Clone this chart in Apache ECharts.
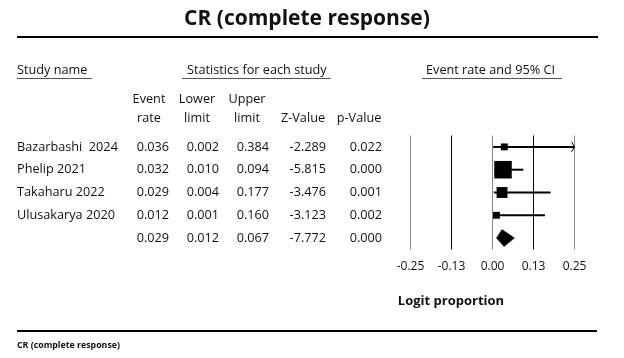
<!DOCTYPE html>
<html><head><meta charset="utf-8">
<script src="https://cdn.jsdelivr.net/npm/echarts@6/dist/echarts.min.js"></script>
<style>html,body{margin:0;padding:0;background:#fff}#c{width:624px;height:358px}</style>
</head><body><div id="c"></div>
<script>
// ---- data (last row = pooled estimate) ----
const studyNames = ['Bazarbashi  2024', 'Phelip 2021', 'Takaharu 2022', 'Ulusakarya 2020', ''];
const eventRate  = [0.036, 0.032, 0.029, 0.012, 0.029];
const lowerLimit = [0.002, 0.010, 0.004, 0.001, 0.012];
const upperLimit = [0.384, 0.094, 0.177, 0.160, 0.067];
const zValue     = [-2.289, -5.815, -3.476, -3.123, -7.772];
const pValue     = [0.022, 0.000, 0.001, 0.002, 0.000];
const relWeight  = [8, 52, 20, 8];           // relative study weights (square size)
const axisMin = -0.25, axisMax = 0.25, axisStep = 0.125;
const titleText = 'CR (complete response)';
const groupHeaders = ['Study name', 'Statistics for each study', 'Event rate and 95% CI'];
const colHeaders = [['Event', 'rate'], ['Lower', 'limit'], ['Upper', 'limit'], ['', 'Z-Value'], ['', 'p-Value']];
const axisTitle = 'Logit proportion';

// ---- layout ----
const FONT = '"Open Sans", "Noto Sans", sans-serif';
const FS = 12.7;
const GL = 410.5, GW = 164, GT = 135.5, GH = 114;
const rowKeys = studyNames.map((_, i) => 'r' + i);
const nStudies = relWeight.length;
const colRight = [169, 219, 269, 326, 382];
const colTexts = [eventRate, lowerLimit, upperLimit, zValue, pValue].map(a => a.map(v => v.toFixed(3)));

function baseY(extra) {
  return Object.assign({
    type: 'category', gridIndex: 0, data: rowKeys, inverse: true, position: 'left',
    axisLine: {show: false}, axisTick: {show: false}, splitLine: {show: false}
  }, extra);
}
const yAxes = [baseY({
  offset: GL - 17,
  axisLabel: {interval: 0, margin: 0, align: 'left', color: '#111', fontSize: FS, fontFamily: FONT,
    formatter: (v, i) => studyNames[i]}
})];
colTexts.forEach((t, c) => {
  yAxes.push(baseY({
    offset: GL - colRight[c],
    axisLabel: {interval: 0, margin: 0, align: 'right', color: '#111', fontSize: FS, fontFamily: FONT,
      formatter: (v, i) => t[i]}
  }));
});

const graphics = [];
function txt(text, x, y, align, font) {
  graphics.push({type: 'text', silent: true, style: {text, x, y, align, verticalAlign: 'middle',
    textAlign: align, textVerticalAlign: 'middle', fill: '#111', font: font || (FS + 'px ' + FONT)}});
}
function ln(x1, y1, x2, y2, w, color) {
  graphics.push({type: 'line', silent: true, shape: {x1, y1, x2, y2}, style: {stroke: color || '#000', lineWidth: w}});
}
ln(17, 37, 598, 37, 2);
ln(17, 331, 597, 331, 2);
txt(groupHeaders[0], 17, 70, 'left');
txt(groupHeaders[1], 187, 70, 'left');
txt(groupHeaders[2], 426, 70, 'left');
ln(17, 78.5, 92, 78.5, 1, '#555');
ln(182, 78.5, 331, 78.5, 1, '#555');
ln(422, 78.5, 562, 78.5, 1, '#555');
const hdrX = [149, 197, 247, 303, 359];
colHeaders.forEach((h, c) => {
  if (h[0]) txt(h[0], hdrX[c], 99, 'center');
  txt(h[1], hdrX[c], 118, 'center');
});
txt(axisTitle, 451, 301, 'center', 'bold 13px ' + FONT);
txt(titleText, 17, 345, 'left', 'bold 8.8px ' + FONT);
txt(titleText, 307, 19, 'center', 'bold 21px ' + FONT);

const chart = echarts.init(document.getElementById('c'), null, {renderer: 'canvas'});
chart.setOption({
  animation: false,
  backgroundColor: '#fff',
  grid: {left: GL, top: GT, width: GW, height: GH, containLabel: false, outerBoundsMode: 'none'},
  xAxis: {
    type: 'value', min: axisMin, max: axisMax, interval: axisStep,
    axisLine: {show: false}, axisTick: {show: false},
    axisLabel: {margin: 11, color: '#111', fontSize: 12, fontFamily: FONT, formatter: v => v.toFixed(2)},
    splitLine: {show: true, showMinLine: true, showMaxLine: true,
      lineStyle: {color: ['#8a8a8a', '#000', '#8a8a8a', '#000', '#8a8a8a'], width: 1}}
  },
  yAxis: yAxes,
  graphic: graphics,
  series: [
    {
      type: 'custom', clip: false,
      data: rowKeys.slice(0, nStudies).map((_, i) => [lowerLimit[i], upperLimit[i], i]),
      renderItem: (params, api) => {
        const lo = api.value(0), hi = api.value(1), row = api.value(2);
        const p0 = api.coord([Math.max(lo, axisMin), row]);
        const p1 = api.coord([Math.min(hi, axisMax), row]);
        const ch = [{type: 'line', shape: {x1: p0[0], y1: p0[1], x2: p1[0], y2: p1[1]},
          style: {stroke: '#000', lineWidth: 2}}];
        if (hi > axisMax) ch.push({type: 'polyline', shape: {points: [[p1[0] - 3, p1[1] - 5], [p1[0], p1[1]], [p1[0] - 3, p1[1] + 5]]},
          style: {stroke: '#000', fill: null, lineWidth: 1}});
        return {type: 'group', children: ch};
      }
    },
    {
      type: 'scatter', symbol: 'rect',
      data: relWeight.map((w, i) => [eventRate[i], i, w]),
      symbolSize: d => 2.43 * Math.sqrt(d[2]),
      itemStyle: {color: '#000', opacity: 1}
    },
    {
      type: 'custom', clip: false,
      data: [[lowerLimit[nStudies], eventRate[nStudies], upperLimit[nStudies], nStudies]],
      renderItem: (params, api) => {
        const row = api.value(3);
        const l = api.coord([api.value(0), row]);
        const m = api.coord([api.value(1), row]);
        const r = api.coord([api.value(2), row]);
        const h = 8.5;
        return {type: 'polygon', shape: {points: [l, [m[0], m[1] - h], r, [m[0] + 2, m[1] + h]]},
          style: {fill: '#000', stroke: '#000', lineWidth: 0.5}};
      }
    }
  ]
});
</script></body></html>
